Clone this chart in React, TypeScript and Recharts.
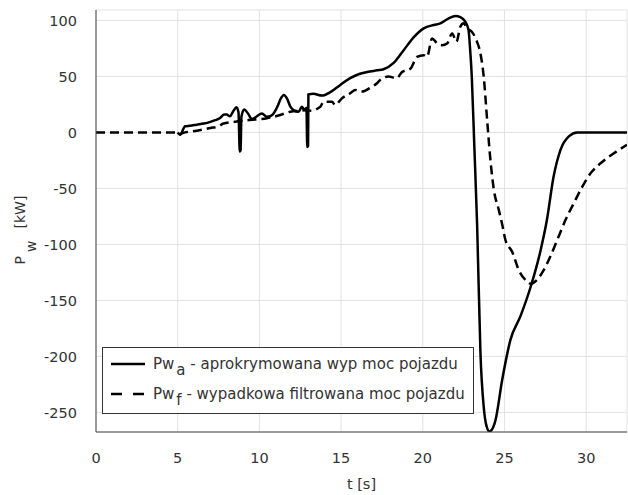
import { LineChart, Line, XAxis, YAxis, CartesianGrid, Legend, Label } from 'recharts';

const xTicks = [0, 5, 10, 15, 20, 25, 30];
const yTicks = [-250, -200, -150, -100, -50, 0, 50, 100];
const xDomain: [number, number] = [0, 32.5];
const yDomain: [number, number] = [-267.5, 109.4];

// Pw_a - approximated power (solid)
const tApprox = [
  5.0, 5.15, 5.45, 5.75, 6.17, 6.6, 7.0, 7.3, 7.6, 7.85, 8.0, 8.2, 8.4, 8.6, 8.72, 8.8, 8.85, 8.9,
  9.07, 9.3, 9.54, 9.85, 10.15, 10.46, 10.66, 10.87, 11.1, 11.3, 11.5, 11.7, 11.9, 12.09, 12.4, 12.6,
  12.75, 12.88, 12.93, 12.98, 13.0, 13.3, 13.83, 14.34, 14.95, 15.56, 16.07, 16.59, 17.2, 17.6, 18.2,
  18.83, 19.44, 20.06, 20.67, 21.08, 21.59, 22.0, 22.3, 22.6, 22.8, 22.9, 23.0, 23.15, 23.33, 23.53,
  23.73, 23.9, 24.08, 24.25, 24.45, 24.86, 25.37, 25.98, 26.6, 27.2, 27.6, 28.0, 28.43, 28.94, 29.45,
  30.5, 32.5,
];
const pApprox = [
  0, -2, 5.5, 6, 7, 8, 9.5, 11, 13, 16, 16, 14.5, 19, 22.5, 18, -17, -16, 14,
  20.5, 17, 12, 14.5, 17, 14, 14.5, 17, 23, 30, 33.5, 30, 23, 20, 18.5, 23,
  20, 22, -13, -12, 34, 34.5, 33, 36, 42.5, 48.5, 52, 54, 55.5, 56.5, 62,
  73.5, 85, 93, 96, 97.5, 102, 104, 103, 99, 91.5, 74, 50, -10, -84, -197,
  -245, -262, -267, -265, -257, -221, -185, -164, -138, -106, -78, -40, -15.5, -3.5, 0,
  0, 0,
];

// Pw_f - filtered power (dashed)
const tFilt = [
  0, 5.0, 5.1, 5.3, 6.17, 7.0, 7.5, 7.8, 8.5, 9.0, 9.44, 10.46, 11.27, 11.89, 12.5, 12.91, 13.11,
  13.73, 13.93, 14.44, 14.64, 15.05, 15.56, 15.87, 16.27, 16.79, 17.2, 17.4, 17.9, 18.4, 18.73, 19.24,
  19.65, 20.06, 20.26, 20.57, 20.88, 21.18, 21.49, 21.8, 22.06, 22.3, 22.5, 22.71, 23.0, 23.28, 23.53,
  23.73, 23.94, 24.14, 24.35, 24.65, 24.86, 25.06, 25.47, 25.88, 26.39, 26.6, 27.0, 27.4, 27.8, 28.23,
  28.74, 29.25, 29.76, 30.27, 30.88, 31.7, 32.5,
];
const pFilt = [
  0, 0, -1.5, -0.5, 1.6, 4, 5.5, 8, 9.5, 10.5, 11.2, 12.7, 15.6, 18.6, 19.5, 20, 19.5,
  23, 27.5, 27.5, 24.5, 30.5, 35, 38, 36.5, 40, 44, 47, 50, 48.5, 54, 57,
  67.5, 69, 67.5, 84, 79.5, 78, 79.5, 88.5, 81, 94.5, 97.5, 93, 90, 82.5, 70.5,
  50, 11, -24.5, -51, -69, -82, -96, -106.5, -123, -133, -135, -131.5, -123, -111, -96,
  -78, -63, -48.5, -36.5, -27.5, -18.5, -11,
];

const legendRows = [
  { sub: 'a', name: 'aprokrymowana wyp moc pojazdu', dash: undefined },
  { sub: 'f', name: 'wypadkowa filtrowana moc pojazdu', dash: '11 11' },
];

const approxData = tApprox.map((t, i) => ({ t, p: pApprox[i] }));
const filtData = tFilt.map((t, i) => ({ t, p: pFilt[i] }));

const FONT = '"DejaVu Sans", Verdana, sans-serif';
const TEXT = '#333333';
const AXIS = '#444444';
const GRID = '#e2e2e2';
const tickStyle = { fill: TEXT, fontSize: 14.5, fontFamily: FONT };

function YLabel() {
  return (
    <text
      transform="translate(25,230) rotate(-90)"
      textAnchor="middle"
      fontFamily={FONT}
      fontSize={14}
      fill={TEXT}
    >
      P<tspan dx={4} dy={11}>w</tspan>
      <tspan dx={12} dy={-11}>[kW]</tspan>
    </text>
  );
}

function LegendBox() {
  return (
    <div
      style={{
        position: 'relative',
        width: 372,
        height: 67,
        boxSizing: 'border-box',
        border: '1px solid #333',
        background: '#fff',
        fontFamily: FONT,
        fontSize: 15,
        color: TEXT,
      }}
    >
      {legendRows.map((r, i) => (
        <div
          key={r.sub}
          style={{
            position: 'absolute',
            left: 8,
            top: 6 + i * 30,
            height: 20,
            display: 'flex',
            alignItems: 'center',
            whiteSpace: 'nowrap',
          }}
        >
          <svg width={34} height={4}>
            <line x1={0} y1={2} x2={34} y2={2} stroke="#000" strokeWidth={2.5} strokeDasharray={r.dash} />
          </svg>
          <span style={{ marginLeft: 8 }}>
            Pw<span style={{ position: 'relative', top: 6, marginLeft: 2 }}>{r.sub}</span> - {r.name}
          </span>
        </div>
      ))}
    </div>
  );
}

export default function App() {
  return (
    <div style={{ position: 'absolute', left: 0, top: 0, width: 628, height: 495, background: '#fff', fontFamily: FONT }}>
      <LineChart width={628} height={495} margin={{ top: 10, right: 1, bottom: 0, left: 0 }}>
        <CartesianGrid stroke={GRID} strokeWidth={1} />
        <XAxis
          dataKey="t"
          type="number"
          domain={xDomain}
          ticks={xTicks}
          allowDataOverflow
          height={63}
          tickLine={false}
          tickSize={6}
          tickMargin={15}
          tick={tickStyle}
          axisLine={{ stroke: AXIS }}
        >
          <Label value="t [s]" position="insideBottom" offset={6} fill={TEXT} fontSize={14.5} fontFamily={FONT} />
        </XAxis>
        <XAxis xAxisId="bt" dataKey="t" type="number" domain={xDomain} ticks={xTicks} allowDataOverflow orientation="bottom" mirror height={0} tick={false} tickSize={5} tickLine={{ stroke: AXIS }} axisLine={false} />
        <XAxis xAxisId="top" dataKey="t" type="number" domain={xDomain} ticks={xTicks} allowDataOverflow orientation="top" mirror height={0} tick={false} tickSize={5} tickLine={{ stroke: AXIS }} axisLine={{ stroke: AXIS }} />
        <YAxis
          type="number"
          domain={yDomain}
          ticks={yTicks}
          allowDataOverflow
          width={96}
          tickLine={false}
          tickSize={6}
          tickMargin={13}
          tick={tickStyle}
          axisLine={{ stroke: AXIS }}
        >
          <Label content={<YLabel />} />
        </YAxis>
        <YAxis yAxisId="lt" type="number" domain={yDomain} ticks={yTicks} allowDataOverflow orientation="left" mirror width={0} tick={false} tickSize={5} tickLine={{ stroke: AXIS }} axisLine={false} />
        <YAxis yAxisId="rt" type="number" domain={yDomain} ticks={yTicks} allowDataOverflow orientation="right" mirror width={0} tick={false} tickSize={5} tickLine={{ stroke: AXIS }} axisLine={{ stroke: AXIS }} />
        <Legend
          layout="vertical"
          align="center"
          verticalAlign="middle"
          content={<LegendBox />}
          wrapperStyle={{ left: 102, top: 347, width: 372, height: 67 }}
        />
        <Line
          data={filtData}
          dataKey="p"
          name="Pw_f"
          type="monotone"
          stroke="#000"
          strokeWidth={2.5}
          strokeDasharray="9 5"
          dot={false}
          isAnimationActive={false}
        />
        <Line
          data={approxData}
          dataKey="p"
          name="Pw_a"
          type="monotone"
          stroke="#000"
          strokeWidth={2.5}
          dot={false}
          isAnimationActive={false}
        />
      </LineChart>
    </div>
  );
}
